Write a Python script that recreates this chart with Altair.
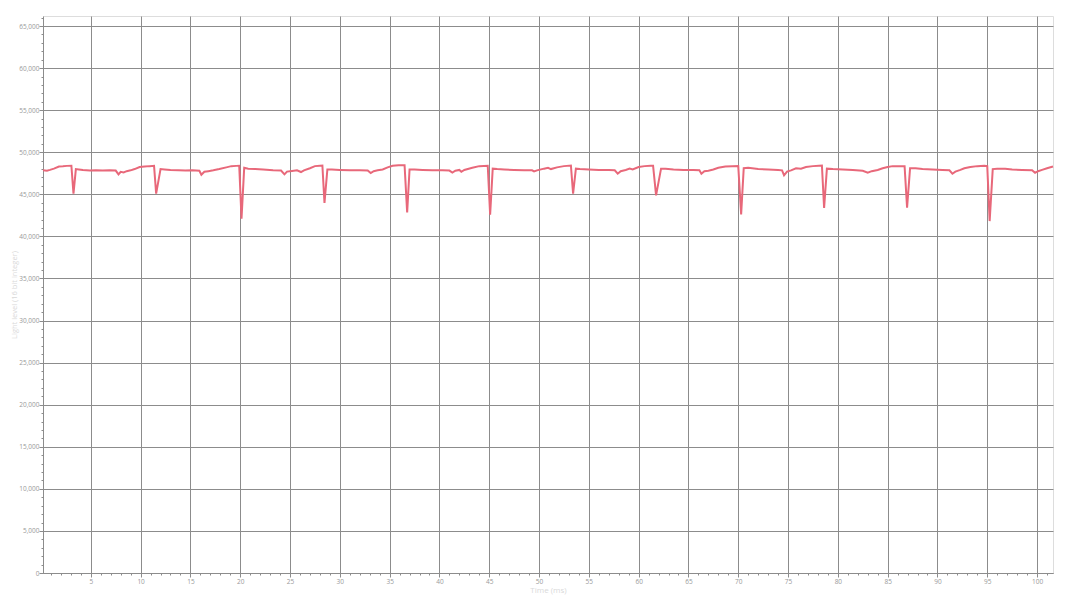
import altair as alt
import pandas as pd

# Time (ms) and light level readings
time_ms = [
    0.2, 0.6, 0.9, 1.3, 1.8, 2.2, 2.6, 3.05, 3.26, 3.5, 3.8, 4.2, 4.9, 5.5, 6.2, 6.9, 7.5, 7.78, 8.0, 8.3,
    8.6, 9.0, 9.4, 9.9, 10.4, 10.9, 11.35, 11.56, 12.0, 12.4, 13.0, 13.8, 14.5, 15.2, 15.9, 16.1, 16.4, 16.8,
    17.3, 17.9, 18.6, 19.1, 19.6, 19.9, 20.13, 20.4, 20.8, 21.5, 22.3, 23.3, 24.1, 24.44, 24.7, 25.2, 25.7,
    26.1, 26.4, 27.0, 27.5, 28.0, 28.25, 28.46, 28.75, 29.2, 30.0, 31.0, 32.0, 32.8, 33.1, 33.4, 33.8, 34.3,
    34.8, 35.3, 35.9, 36.5, 36.76, 37.0, 37.5, 38.3, 39.3, 40.3, 41.0, 41.3, 41.6, 42.0, 42.2, 42.5, 43.3,
    44.0, 44.85, 45.09, 45.35, 45.8, 46.5, 47.5, 48.5, 49.3, 49.5, 49.8, 50.5, 50.9, 51.2, 51.8, 52.5, 53.2,
    53.42, 53.7, 54.1, 55.0, 56.0, 57.0, 57.6, 57.9, 58.2, 58.7, 59.1, 59.4, 60.0, 60.6, 61.2, 61.45, 61.75,
    62.25, 62.7, 63.5, 64.5, 65.5, 66.1, 66.3, 66.6, 67.0, 67.5, 68.0, 68.7, 69.4, 70.0, 70.29, 70.55, 71.0,
    72.0, 73.0, 74.0, 74.4, 74.6, 74.9, 75.3, 75.8, 76.3, 76.8, 77.5, 78.1, 78.4, 78.62, 78.9, 79.5, 80.5,
    81.5, 82.5, 83.0, 83.4, 84.0, 84.5, 85.0, 85.5, 86.2, 86.7, 86.95, 87.25, 87.8, 88.5, 89.5, 90.5, 91.2,
    91.5, 91.8, 92.3, 92.7, 93.3, 94.0, 94.7, 95.0, 95.24, 95.55, 96.0, 96.8, 97.5, 98.5, 99.5, 99.8, 100.1,
    100.5, 101.0, 101.6,
]
light_level = [
    47850, 47800, 47900, 48050, 48300, 48330, 48380, 48400, 45080, 48000, 47950, 47880, 47820, 47850, 47830,
    47860, 47820, 47360, 47680, 47600, 47750, 47850, 48000, 48250, 48300, 48350, 48380, 45080, 48000, 47950,
    47880, 47850, 47820, 47850, 47800, 47330, 47680, 47750, 47850, 48000, 48200, 48350, 48380, 48400, 42100,
    48150, 48050, 48000, 47950, 47850, 47820, 47370, 47700, 47780, 47850, 47650, 47850, 48100, 48350, 48400,
    48420, 43970, 47950, 47950, 47900, 47850, 47850, 47820, 47520, 47750, 47850, 47950, 48200, 48400, 48450,
    48450, 42860, 47950, 47950, 47900, 47850, 47850, 47820, 47580, 47800, 47900, 47680, 47900, 48150, 48350,
    48400, 42580, 48050, 48000, 47950, 47900, 47850, 47850, 47720, 47850, 48050, 48150, 48000, 48200, 48350,
    48420, 45070, 48050, 48000, 47950, 47900, 47880, 47850, 47450, 47750, 47900, 48050, 47950, 48250, 48350,
    48400, 48400, 44880, 48050, 48050, 47950, 47900, 47880, 47850, 47450, 47750, 47800, 47950, 48150, 48300,
    48350, 48370, 42620, 48100, 48150, 48000, 47950, 47900, 47850, 47250, 47700, 47850, 48100, 48050, 48250,
    48350, 48400, 48420, 43370, 48050, 48000, 47950, 47900, 47800, 47570, 47750, 47900, 48100, 48250, 48350,
    48350, 48350, 43420, 48100, 48100, 48000, 47950, 47900, 47850, 47450, 47700, 47900, 48100, 48250, 48350,
    48400, 48350, 41820, 48000, 48050, 48050, 47950, 47900, 47850, 47550, 47750, 47900, 48100, 48300,
]

x_major_ticks = [5, 10, 15, 20, 25, 30, 35, 40, 45, 50, 55, 60, 65, 70, 75, 80, 85, 90, 95, 100]
x_minor_ticks = list(range(1, 102))
y_major_ticks = list(range(0, 65001, 5000))
y_minor_ticks = list(range(0, 66001, 1000))

df = pd.DataFrame({"t": time_ms, "v": light_level})

FONT = "Open Sans"
GRID = "#8c8c8c"
LABEL = "#999999"
TITLE = "#d9d9d9"

x_scale = alt.Scale(domain=[0.2, 101.6], nice=False, zero=False)
y_scale = alt.Scale(domain=[0, 66190], nice=False)

minor = alt.Chart(df).mark_line(opacity=0).encode(
    x=alt.X("t:Q", scale=x_scale,
            axis=alt.Axis(orient="bottom", values=x_minor_ticks, labels=False, grid=False,
                          domain=False, tickSize=2, tickColor=GRID, title=None)),
    y=alt.Y("v:Q", scale=y_scale,
            axis=alt.Axis(orient="left", values=y_minor_ticks, labels=False, grid=False,
                          domain=False, tickSize=2, tickColor=GRID, title=None)),
)

line = alt.Chart(df).mark_line(color="#e8687a", strokeWidth=2).encode(
    x=alt.X("t:Q", scale=x_scale,
            axis=alt.Axis(orient="bottom", values=x_major_ticks, format=".0f", grid=True,
                          gridColor=GRID, gridWidth=1, gridOpacity=1, domainColor=GRID,
                          tickColor=GRID, tickSize=4, labelFontSize=6.5, labelColor=LABEL,
                          labelFont=FONT, labelPadding=1,
                          title="Time (ms)", titleFont=FONT, titleFontSize=8, titleColor=TITLE,
                          titleFontWeight="normal", titleY=13, titleBaseline="top")),
    y=alt.Y("v:Q", scale=y_scale,
            axis=alt.Axis(orient="left", values=y_major_ticks, format=",.0f", grid=True,
                          gridColor=GRID, gridWidth=1, gridOpacity=1, domainColor=GRID,
                          tickColor=GRID, tickSize=4, labelFontSize=6.5, labelColor=LABEL,
                          labelFont=FONT, labelPadding=0,
                          title="Light level (16 bit integer)", titleFont=FONT, titleFontSize=7.5,
                          titleColor=TITLE, titleFontWeight="normal", titleX=-25,
                          titleBaseline="bottom")),
)

chart = alt.layer(minor, line).resolve_axis(x="independent", y="independent").properties(
    width=1010,
    height=557,
    autosize=alt.AutoSizeParams(type="none"),
    padding={"left": 35, "top": 8, "right": 5, "bottom": 24},
).configure_view(stroke=GRID, strokeWidth=1).configure(background="white")

chart.save("out.html", embed_options={"renderer": "svg", "actions": False})
